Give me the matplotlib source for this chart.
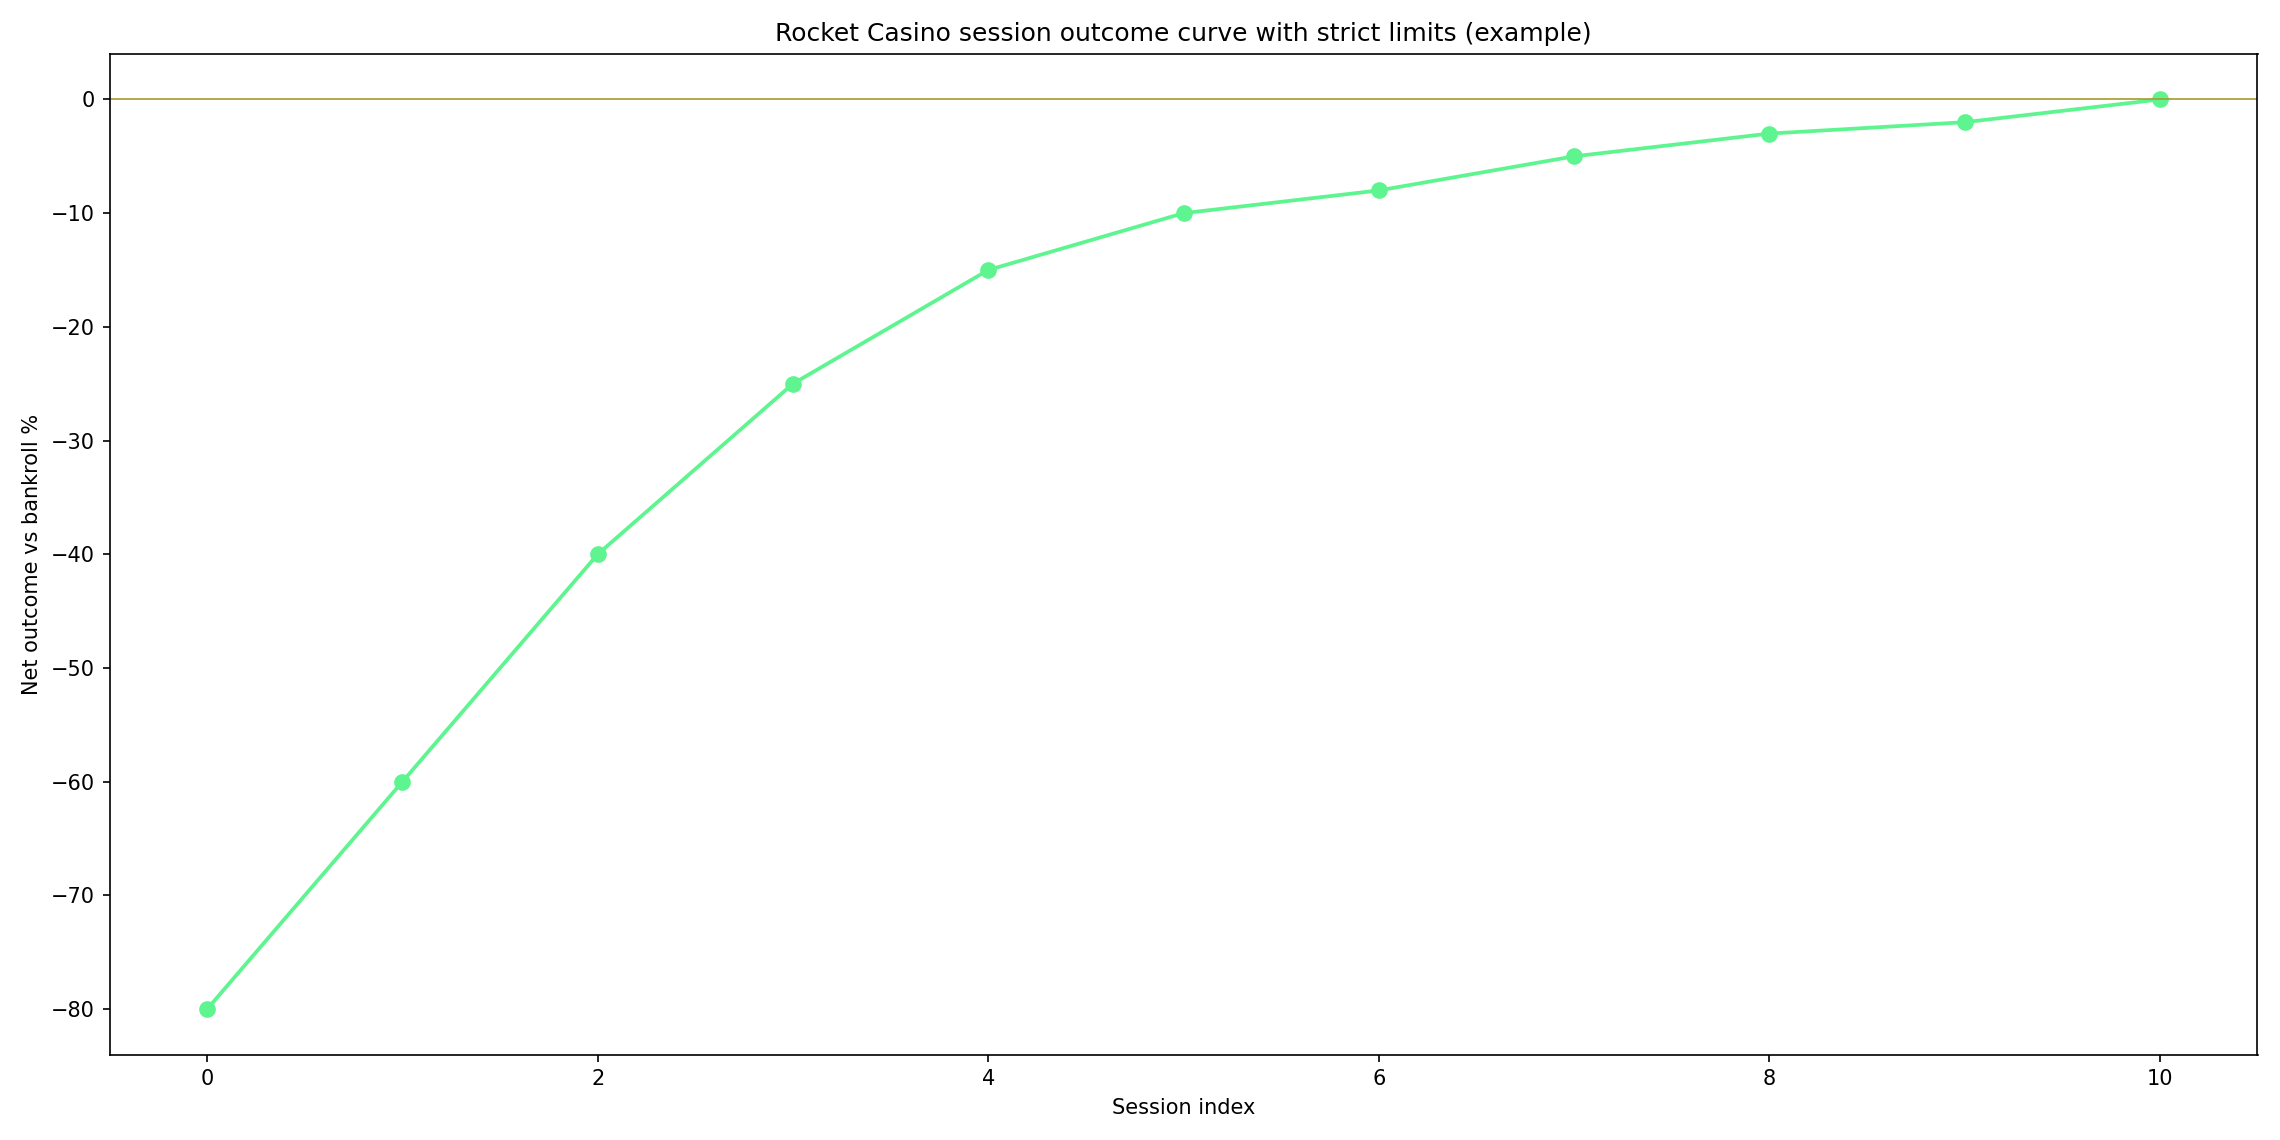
import matplotlib
matplotlib.use("Agg")
import matplotlib.pyplot as plt

sessions = list(range(11))
net_outcome = [-80, -60, -40, -25, -15, -10, -8, -5, -3, -2, 0]

fig, ax = plt.subplots(figsize=(15.2, 7.6), dpi=150)
ax.plot(sessions, net_outcome, color="#5ef590", marker="o", linewidth=1.8, markersize=7)
ax.axhline(0, color="#a89a2e", linewidth=0.8)
ax.set_title("Rocket Casino session outcome curve with strict limits (example)")
ax.set_xlabel("Session index")
ax.set_ylabel("Net outcome vs bankroll %")
fig.tight_layout()
fig.savefig("out.png")
